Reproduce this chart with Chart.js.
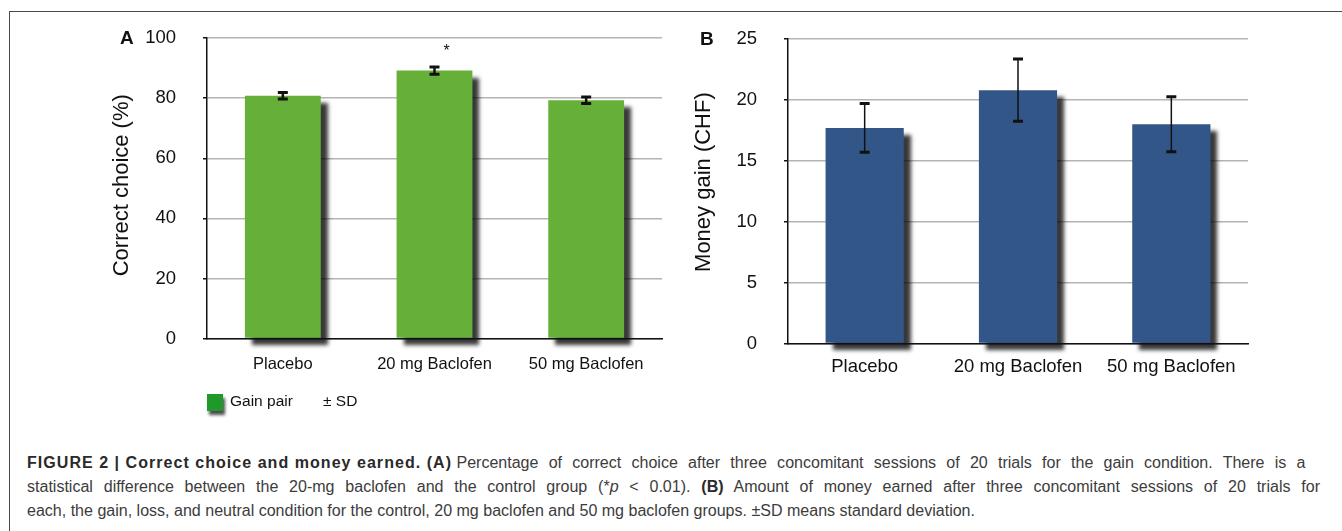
<!DOCTYPE html>
<html>
<head>
<meta charset="utf-8">
<script src="https://cdn.jsdelivr.net/npm/chart.js@4.4.1/dist/chart.umd.min.js"></script>
<style>
  html, body { margin: 0; padding: 0; background: #fff; }
  body { width: 1342px; height: 531px; position: relative; overflow: hidden;
         font-family: "Liberation Sans", Arial, Helvetica, sans-serif; }
  #frame { position: absolute; left: 9px; top: 11px; width: 1400px; height: 600px;
           border-top: 1.5px solid #4a4a4a; border-left: 1.5px solid #4a4a4a; }
  #wrapA { position: absolute; left: 0; top: 0; width: 680px; height: 430px; }
  #wrapB { position: absolute; left: 680px; top: 0; width: 662px; height: 430px; }
  .cap { position: absolute; left: 27px; white-space: nowrap; font-size: 16px; line-height: 20px;
         color: #3c3c3c; transform-origin: 0 0; }
  .cap.just, .cap .rest { text-align: justify; text-align-last: justify; }
  .cap .rest { display: inline-block; }
  .cap b { color: #2a2a2a; }
</style>
</head>
<body>
<div id="frame"></div>
<div id="wrapA"><canvas id="chartA" width="680" height="430"></canvas></div>
<div id="wrapB"><canvas id="chartB" width="662" height="430"></canvas></div>
<div class="cap" id="cap1" style="top:453px"><b>FIGURE 2 | Correct choice and money earned. (A)</b> <span class="rest">Percentage of correct choice after three concomitant sessions of 20 trials for the gain condition. There is a</span></div>
<div class="cap just" id="cap2" style="top:477px">statistical difference between the 20-mg baclofen and the control group (*<i>p</i> &lt; 0.01). <b>(B)</b> Amount of money earned after three concomitant sessions of 20 trials for</div>
<div class="cap" id="cap3" style="top:501px">each, the gain, loss, and neutral condition for the control, 20 mg baclofen and 50 mg baclofen groups. ±SD means standard deviation.</div>
<script>
// Groups and measured values
const categories = ['Placebo', '20 mg Baclofen', '50 mg Baclofen'];
const correctChoice = [80.8, 89.2, 79.3];      // % correct, gain pair
const correctChoiceSD = [1.1, 1.2, 1.1];
const significance = ['', '*', ''];
const moneyGain = [17.7, 20.8, 18.0];          // CHF
const moneyGainSD = [2.0, 2.55, 2.25];
const correctTicks = { min: 0, max: 100, step: 20 };
const moneyTicks = { min: 0, max: 25, step: 5 };
const legendLabels = ['Gain pair', '± SD'];

const FONT = '"Liberation Sans", Arial, Helvetica, sans-serif';
const INK = '#111111';

// Drop shadow behind the bars
const barShadow = {
  id: 'barShadow',
  beforeDatasetDraw(chart) {
    const ctx = chart.ctx;
    ctx.save();
    ctx.shadowColor = 'rgba(0,0,0,0.78)';
    ctx.shadowOffsetX = 7;
    ctx.shadowOffsetY = 7;
    ctx.shadowBlur = 4;
  },
  afterDatasetDraw(chart) { chart.ctx.restore(); }
};

// ±SD whiskers drawn from each bar's value
const errorBars = {
  id: 'errorBars',
  afterDatasetsDraw(chart, args, opts) {
    const ctx = chart.ctx;
    const yScale = chart.scales.y;
    chart.data.datasets.forEach((ds, di) => {
      const meta = chart.getDatasetMeta(di);
      meta.data.forEach((bar, i) => {
        const v = ds.data[i], sd = ds.sd[i];
        const yt = yScale.getPixelForValue(v + sd);
        const yb = yScale.getPixelForValue(v - sd);
        ctx.save();
        ctx.strokeStyle = INK;
        ctx.lineWidth = opts.stem;
        ctx.beginPath();
        ctx.moveTo(bar.x, yt); ctx.lineTo(bar.x, yb);
        ctx.stroke();
        ctx.lineWidth = opts.cap;
        ctx.beginPath();
        ctx.moveTo(bar.x - opts.half, yt); ctx.lineTo(bar.x + opts.half, yt);
        ctx.moveTo(bar.x - opts.half, yb); ctx.lineTo(bar.x + opts.half, yb);
        ctx.stroke();
        if (ds.marks && ds.marks[i]) {
          ctx.fillStyle = INK;
          ctx.font = '16px ' + FONT;
          ctx.textAlign = 'center';
          ctx.textBaseline = 'middle';
          ctx.fillText(ds.marks[i], bar.x + 12, yt - 15);
        }
        ctx.restore();
      });
    });
  }
};

// Panel letter and the legend row
const panelDecor = {
  id: 'panelDecor',
  afterDraw(chart, args, opts) {
    const ctx = chart.ctx;
    const yScale = chart.scales.y;
    const area = chart.chartArea;
    ctx.save();
    ctx.fillStyle = INK;
    ctx.font = 'bold 19px ' + FONT;
    ctx.textAlign = 'left';
    ctx.textBaseline = 'middle';
    ctx.fillText(opts.letter, area.left + opts.letterDx, yScale.getPixelForValue(yScale.max) + 1);
    if (opts.legend) {
      const lx = area.left, ly = opts.legendY;
      ctx.save();
      ctx.shadowColor = 'rgba(0,0,0,0.7)';
      ctx.shadowOffsetX = 2;
      ctx.shadowOffsetY = 4;
      ctx.shadowBlur = 3;
      ctx.fillStyle = '#1f9a2a';
      ctx.fillRect(lx, ly - 8, 16, 17);
      ctx.restore();
      ctx.fillStyle = INK;
      ctx.font = '15.5px ' + FONT;
      ctx.fillText(legendLabels[0], lx + 23, ly);
      ctx.fillText(legendLabels[1], lx + 116, ly);
    }
    ctx.restore();
  }
};

function makeChart(id, cfg) {
  return new Chart(document.getElementById(id), {
    type: 'bar',
    data: {
      labels: categories,
      datasets: [{
        data: cfg.values,
        sd: cfg.sd,
        marks: cfg.marks,
        backgroundColor: cfg.color,
        borderWidth: 0,
        barPercentage: cfg.barPct,
        categoryPercentage: 1,
        clip: false
      }]
    },
    options: {
      responsive: false,
      animation: false,
      devicePixelRatio: 1,
      layout: { padding: cfg.padding },
      plugins: {
        legend: { display: false },
        tooltip: { enabled: false },
        errorBars: cfg.err,
        panelDecor: cfg.decor
      },
      scales: {
        x: {
          grid: { display: false, drawTicks: false },
          border: { display: true, color: INK, width: 1.5, z: 1 },
          ticks: { padding: cfg.xPad, color: INK, font: { family: FONT, size: cfg.xFont } },
          afterFit(s) { s.height = 40; }
        },
        y: {
          min: cfg.ticks.min, max: cfg.ticks.max,
          ticks: { stepSize: cfg.ticks.step, padding: 27, color: INK, font: { family: FONT, size: 18.5 } },
          grid: { color: '#b4b4b4', lineWidth: 1.5, drawTicks: true, tickLength: 4, tickColor: INK, tickWidth: 1.5 },
          border: { display: true, color: INK, width: 1.5, z: 1 },
          title: { display: true, text: cfg.title, color: INK, font: { family: FONT, size: 22 }, padding: { top: cfg.titlePad, bottom: 0 } },
          afterFit(s) { s.width = cfg.yWidth; }
        }
      }
    },
    plugins: [barShadow, errorBars, panelDecor]
  });
}

makeChart('chartA', {
  values: correctChoice, sd: correctChoiceSD, marks: significance,
  color: '#66b03a', barPct: 0.5,
  padding: { left: 0, top: 35, right: 18, bottom: 430 - 338.5 - 40 },
  yWidth: 207, titlePad: 109, title: ' Correct choice (%)',
  ticks: correctTicks, xFont: 16.5, xPad: 16,
  err: { stem: 2.5, cap: 3, half: 5 },
  decor: { letter: 'A', letterDx: -87, legend: true, legendY: 402 }
});

makeChart('chartB', {
  values: moneyGain, sd: moneyGainSD, marks: null,
  color: '#335689', barPct: 0.51,
  padding: { left: 0, top: 39, right: 94, bottom: 430 - 343.5 - 40 },
  yWidth: 108, titlePad: 11, title: '   Money gain (CHF)',
  ticks: moneyTicks, xFont: 18.5, xPad: 12,
  err: { stem: 1.5, cap: 3, half: 5 },
  decor: { letter: 'B', letterDx: -88, legend: false }
});

// Condensed caption: squeeze set by the last (ragged) line; the heading keeps its
// natural spacing while the remaining running text is justified to the column edge
(function fitCaption() {
  const cap1 = document.getElementById('cap1');
  const cap2 = document.getElementById('cap2');
  const cap3 = document.getElementById('cap3');
  const k = 948 / cap3.getBoundingClientRect().width;
  const bold = cap1.querySelector('b');
  const rest = cap1.querySelector('.rest');
  const bw = bold.getBoundingClientRect().width;
  bold.style.letterSpacing = ((425 / k - bw) / bold.textContent.length) + 'px';
  rest.style.width = ((1306 - 457) / k) + 'px';
  cap2.style.width = ((1320 - 27) / k) + 'px';
  [cap1, cap2, cap3].forEach(el => { el.style.transform = 'scaleX(' + k + ')'; });
})();
</script>
</body>
</html>
